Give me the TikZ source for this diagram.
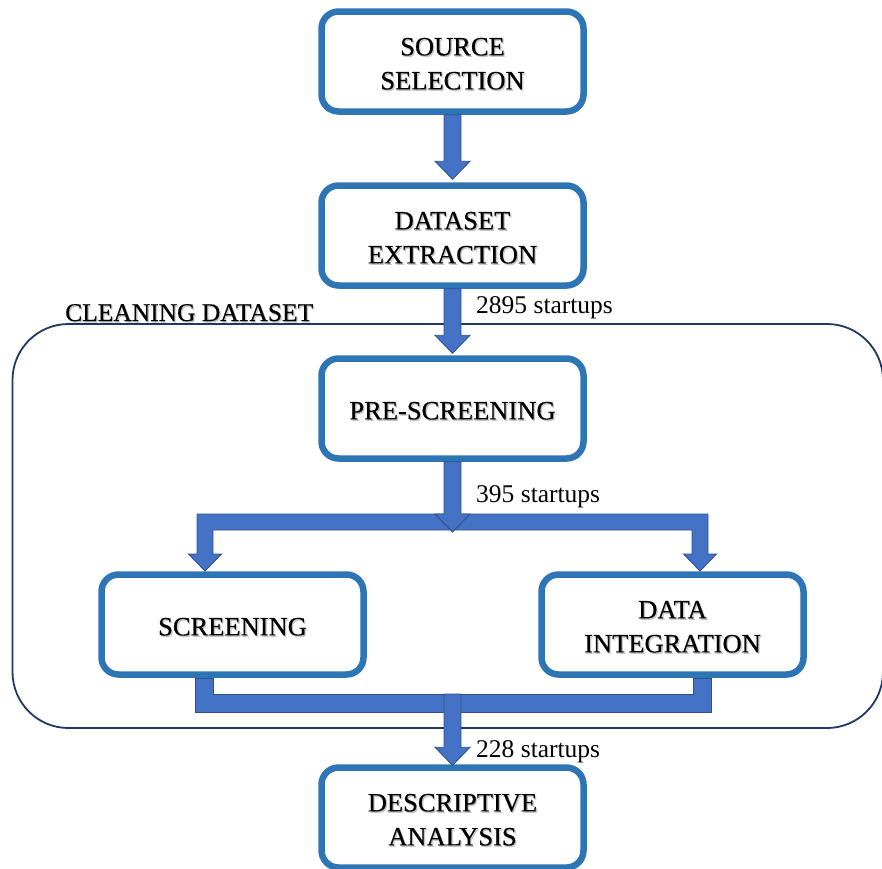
\documentclass[tikz,border=0pt]{standalone}
\usepackage{fontspec}
\setmainfont{Liberation Serif}
\newfontfamily\boxfont[FakeBold=0.5]{Liberation Serif}
\usetikzlibrary{calc}
\definecolor{boxblue}{HTML}{2E75B6}
\definecolor{arrfill}{HTML}{4472C4}
\definecolor{arrline}{HTML}{2F528F}
\definecolor{navyline}{HTML}{1F3864}
\newcommand\shd[1]{\raisebox{-3pt}[\height][\depth]{\makebox[0pt][l]{\hspace{1.3pt}\raisebox{-1.5pt}{\textcolor{black!22}{#1}}}#1}}
\newcommand\vblock[2]{\path[barrow] let \p1=(#1), \p2=(#2) in
  (\x2-8.5pt,\y1) -- (\x2+8.5pt,\y1) -- (\x2+8.5pt,\y2+18pt) -- (\x2+17.5pt,\y2+18pt)
  -- (\x2,\y2) -- (\x2-17.5pt,\y2+18pt) -- (\x2-8.5pt,\y2+18pt) -- cycle;}
\begin{document}
\begin{tikzpicture}[x=1pt,y=-1pt,
  procbox/.style={draw=boxblue, line width=6.5pt, fill=white, rounded corners=17pt,
    minimum width=262pt, minimum height=100pt, inner sep=0pt, align=center,
    font=\boxfont\fontsize{26.5}{34}\selectfont},
  barrow/.style={fill=arrfill, draw=arrline, line width=0.9pt, line join=miter},
  cntlabel/.style={anchor=base west, inner sep=0pt, font=\fontsize{25.5}{30}\selectfont},
  cleanbox/.style={draw=navyline, line width=1.8pt, rounded corners=56pt}]
\useasboundingbox (0,0) rectangle (882,868);

% container
\draw[cleanbox] (12.5,324) rectangle (883,728);
\node[anchor=base west, inner sep=0pt, font=\boxfont\fontsize{25.5}{30}\selectfont] (cleanlbl) at (65,318) {\shd{CLEANING DATASET}};

% boxes
\node[procbox] (src) at (452.5,61.5) {\shd{SOURCE}\\\shd{SELECTION}};
\node[procbox] (ext) at (452.5,235.5) {\shd{DATASET}\\\shd{EXTRACTION}};
\node[procbox] (pre) at (452.5,408.5) {\shd{PRE-SCREENING}};
\node[procbox] (scr) at (232.5,624.5) {\shd{SCREENING}};
\node[procbox] (int) at (672.5,624.5) {\shd{DATA}\\\shd{INTEGRATION}};
\node[procbox] (des) at (452.5,817.5) {\shd{DESCRIPTIVE}\\\shd{ANALYSIS}};

% straight arrows
\vblock{src.south}{$(ext.north)+(0,-3)$}
\vblock{ext.south}{$(pre.north)+(0,-2)$}

% split
\coordinate (splitL) at (205,571);
\coordinate (splitR) at (700,571);
\coordinate (splitC) at (452.5,532);
\path[barrow] (197,514) -- (708,514) -- (708,554) -- (716.5,554) -- (splitR)
  -- (683.5,554) -- (692,554) -- (692,530) -- (213,530) -- (213,554)
  -- (221.5,554) -- (splitL) -- (188.5,554) -- (197,554) -- cycle;
\vblock{pre.south}{splitC}

% merge
\coordinate (mergeC) at (452.5,694);
\path[barrow] (195,678) -- (213,678) -- (213,694) -- (693,694) -- (693,678)
  -- (711,678) -- (711,712) -- (195,712) -- cycle;
\vblock{mergeC}{$(des.north)+(0,1)$}

% labels
\node[cntlabel] (l1) at (476,313) {2895 startups};
\node[cntlabel] (l2) at (476,502) {395 startups};
\node[cntlabel] (l3) at (476,757) {228 startups};
\end{tikzpicture}
\end{document}
